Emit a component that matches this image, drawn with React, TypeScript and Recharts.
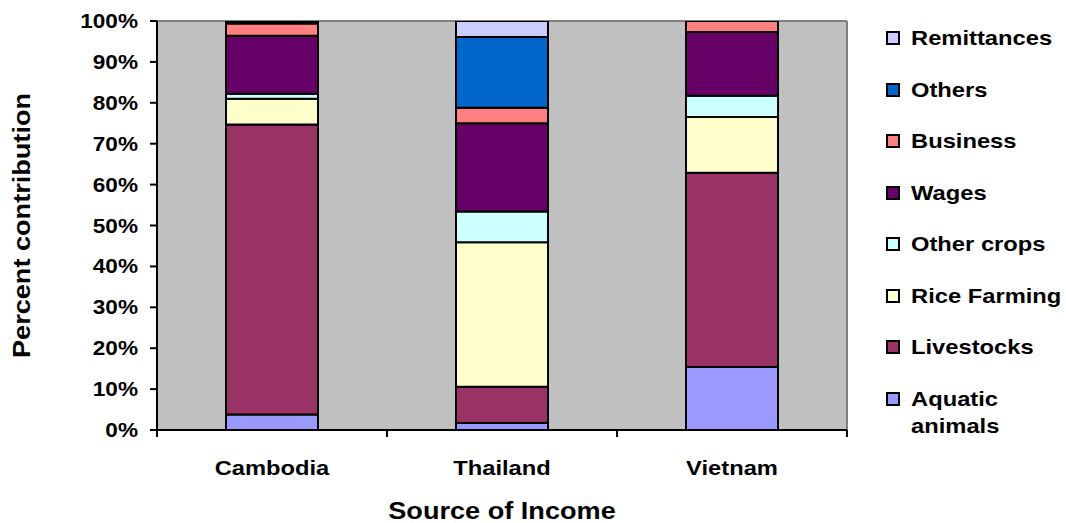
import React from 'react';
import { BarChart, Bar, XAxis, YAxis, CartesianGrid } from 'recharts';

// Income sources by country (percent of household income)
const categories = ['Cambodia', 'Thailand', 'Vietnam'];

const aquaticAnimals = [3.8, 1.7, 15.4];
const livestocks = [70.9, 8.9, 47.5];
const riceFarming = [6.3, 35.3, 13.6];
const otherCrops = [1.2, 7.5, 5.2];
const wages = [14.2, 21.6, 15.6];
const business = [3.0, 3.8, 2.7];
const others = [0.4, 17.3, 0];
const remittances = [0.2, 3.9, 0];

const yTicks = [0, 10, 20, 30, 40, 50, 60, 70, 80, 90, 100];

// Stack order, bottom to top
const series = [
  { key: 'aquatic', name: 'Aquatic animals', lines: ['Aquatic', 'animals'], values: aquaticAnimals, color: '#9999FF' },
  { key: 'livestocks', name: 'Livestocks', lines: ['Livestocks'], values: livestocks, color: '#993366' },
  { key: 'rice', name: 'Rice Farming', lines: ['Rice Farming'], values: riceFarming, color: '#FFFFCC' },
  { key: 'otherCrops', name: 'Other crops', lines: ['Other crops'], values: otherCrops, color: '#CCFFFF' },
  { key: 'wages', name: 'Wages', lines: ['Wages'], values: wages, color: '#660066' },
  { key: 'business', name: 'Business', lines: ['Business'], values: business, color: '#FF8080' },
  { key: 'others', name: 'Others', lines: ['Others'], values: others, color: '#0066CC' },
  { key: 'remittances', name: 'Remittances', lines: ['Remittances'], values: remittances, color: '#CCCCFF' },
];

const data = categories.map((c, i) => {
  const row: Record<string, string | number> = { country: c };
  series.forEach((s) => {
    row[s.key] = s.values[i];
  });
  return row;
});

const FONT = '"Liberation Sans", Arial, Helvetica, sans-serif';
const STRETCH = 1.13;

const W = 1066;
const H = 523;

// Bold label text, slightly widened
function WideText({ x, y, size, anchor = 'middle', rotate = 0, children }: any) {
  return (
    <g transform={`translate(${x}, ${y}) rotate(${rotate}) scale(${STRETCH}, 1)`}>
      <text
        x={0}
        y={0}
        textAnchor={anchor}
        fontFamily={FONT}
        fontWeight="bold"
        fontSize={size}
        fill="#000"
      >
        {children}
      </text>
    </g>
  );
}

function CategoryTick(props: any) {
  const { x, y, payload, index, visibleTicksCount, width } = props;
  const half = payload && payload.offset ? payload.offset : width / (2 * categories.length);
  const axisY = y - 8;
  const isLast = index === visibleTicksCount - 1;
  return (
    <g>
      <line x1={x - half} x2={x - half} y1={axisY} y2={axisY + 7} stroke="#000" strokeWidth={2} />
      {isLast && (
        <line x1={x + half} x2={x + half} y1={axisY} y2={axisY + 7} stroke="#000" strokeWidth={2} />
      )}
      <WideText x={x} y={axisY + 45} size={21}>
        {payload.value}
      </WideText>
    </g>
  );
}

function PercentTick(props: any) {
  const { x, y, payload } = props;
  return (
    <WideText x={x} y={y + 7} size={20} anchor="end">
      {`${payload.value}%`}
    </WideText>
  );
}

function YTitle(props: any) {
  const vb = props.viewBox || { x: 0, y: 21, width: 157, height: 409 };
  const cx = vb.x + 30;
  const cy = vb.y + vb.height / 2;
  return (
    <WideText x={cx} y={cy} size={24} rotate={-90}>
      Percent contribution
    </WideText>
  );
}

function XTitle(props: any) {
  const vb = props.viewBox || { x: 157, y: 430, width: 690, height: 93 };
  return (
    <WideText x={vb.x + vb.width / 2} y={vb.y + 89} size={24}>
      Source of Income
    </WideText>
  );
}

export default function App() {
  const legendItems = [...series].reverse();
  return (
    <div style={{ position: 'absolute', left: 0, top: 0, width: W, height: H, background: '#fff' }}>
      <BarChart
        width={W}
        height={H}
        data={data}
        margin={{ top: 21, right: 219, bottom: 0, left: 0 }}
        barCategoryGap="30%"
      >
        <CartesianGrid
          fill="#C0C0C0"
          stroke="#808080"
          strokeWidth={2}
          horizontalCoordinatesGenerator={({ offset }: any) => [offset.top]}
          verticalCoordinatesGenerator={({ offset }: any) => [offset.left + offset.width]}
        />
        <XAxis
          dataKey="country"
          height={93}
          axisLine={{ stroke: '#000', strokeWidth: 2 }}
          tickLine={false}
          tick={<CategoryTick />}
          interval={0}
          label={{ content: <XTitle /> } as any}
        />
        <YAxis
          width={157}
          domain={[0, 100]}
          ticks={yTicks}
          interval={0}
          allowDataOverflow
          axisLine={{ stroke: '#000', strokeWidth: 2 }}
          tickLine={{ stroke: '#000', strokeWidth: 2 }}
          tickSize={7}
          tickMargin={12}
          tick={<PercentTick />}
          label={{ content: <YTitle /> } as any}
        />
        {series.map((s) => (
          <Bar
            key={s.key}
            dataKey={s.key}
            name={s.name}
            stackId="income"
            fill={s.color}
            stroke="#000"
            strokeWidth={2}
            isAnimationActive={false}
          />
        ))}
      </BarChart>
      <div style={{ position: 'absolute', left: 0, top: 0, width: W, height: H, pointerEvents: 'none' }}>
        {legendItems.map((s, i) => {
          const cy = 38 + i * 51.5;
          return (
            <div key={s.key} style={{ position: 'absolute', left: 886, top: cy - 7 }}>
              <div
                style={{
                  position: 'absolute',
                  left: 0,
                  top: 0,
                  width: 14,
                  height: 14,
                  boxSizing: 'border-box',
                  border: '2px solid #000',
                  background: s.color,
                }}
              />
              <div
                style={{
                  position: 'absolute',
                  left: 25,
                  top: 7 - 14,
                  width: 160,
                  fontFamily: FONT,
                  fontWeight: 'bold',
                  fontSize: 21,
                  lineHeight: '27px',
                  color: '#000',
                  whiteSpace: 'nowrap',
                  transform: `scaleX(${STRETCH})`,
                  transformOrigin: 'left center',
                }}
              >
                {s.lines.map((ln) => (
                  <div key={ln}>{ln}</div>
                ))}
              </div>
            </div>
          );
        })}
      </div>
    </div>
  );
}
